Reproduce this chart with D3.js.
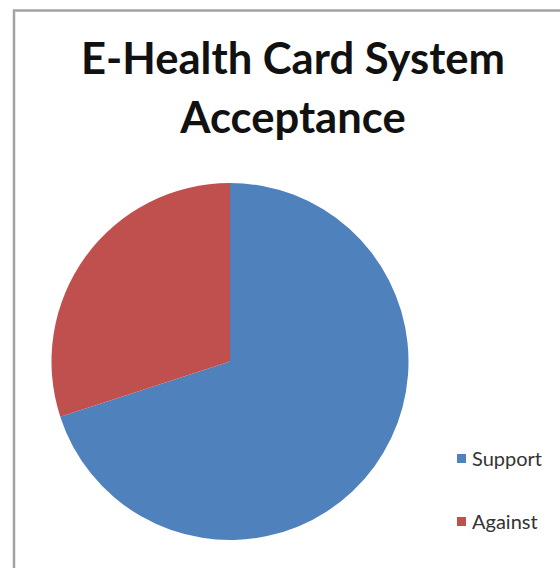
<!DOCTYPE html>
<html>
<head>
<meta charset="utf-8">
<script src="https://cdn.jsdelivr.net/npm/d3@7"></script>
<style>
  html, body { margin: 0; padding: 0; background: #fff; }
  svg { display: block; }
</style>
</head>
<body>
<svg id="chart" width="560" height="568"></svg>
<script>
const categories = ["Support", "Against"];
const values = [70, 30];
const colors = ["#4F81BD", "#C0504D"];
const titleLines = ["E-Health Card System", "Acceptance"];

const svg = d3.select("#chart");

// chart area border (extends beyond the right and bottom edges)
svg.append("rect")
  .attr("x", 14).attr("y", 10.5)
  .attr("width", 600).attr("height", 600)
  .attr("fill", "#fff")
  .attr("stroke", "#a3a3a3")
  .attr("stroke-width", 2.5);

// title
const titleFont = "'Lato', 'Open Sans', sans-serif";
const title = svg.append("g");
const t1 = title.append("text")
  .attr("x", 293).attr("y", 74)
  .attr("text-anchor", "middle")
  .attr("font-family", titleFont)
  .attr("font-weight", "bold")
  .attr("font-size", 36)
  .attr("fill", "#111")
  .text(titleLines[0]);
// fit font size so the first line spans ~424px
const w1 = t1.node().getComputedTextLength();
const fs = 36 * 424 / w1;
t1.attr("font-size", fs);
title.append("text")
  .attr("x", 293).attr("y", 133)
  .attr("text-anchor", "middle")
  .attr("font-family", titleFont)
  .attr("font-weight", "bold")
  .attr("font-size", fs)
  .attr("fill", "#111")
  .text(titleLines[1]);

// pie
const cx = 230, cy = 361.5, r = 178.5;
const pie = d3.pie().sort(null).value(d => d)(values);
const arc = d3.arc().innerRadius(0).outerRadius(r);
svg.append("g")
  .attr("transform", `translate(${cx},${cy})`)
  .selectAll("path")
  .data(pie)
  .join("path")
  .attr("d", arc)
  .attr("fill", (d, i) => colors[i]);

// legend
const legendY = d3.scalePoint().domain(categories).range([459, 522]);
const lg = svg.append("g");
const items = lg.selectAll("g").data(categories).join("g")
  .attr("transform", d => `translate(457,${legendY(d)})`);
items.append("rect")
  .attr("x", 0).attr("y", -5)
  .attr("width", 9).attr("height", 9)
  .attr("fill", (d, i) => colors[i]);
const lt = items.append("text")
  .attr("x", 15).attr("y", 0)
  .attr("dy", "0.35em")
  .attr("font-family", "'Lato', 'Open Sans', sans-serif")
  .attr("font-size", 16)
  .attr("fill", "#333")
  .text(d => d);
// fit legend font so "Support" spans ~70px
const lw = lt.node().getComputedTextLength();
lt.attr("font-size", 16 * 70 / lw);
</script>
</body>
</html>
